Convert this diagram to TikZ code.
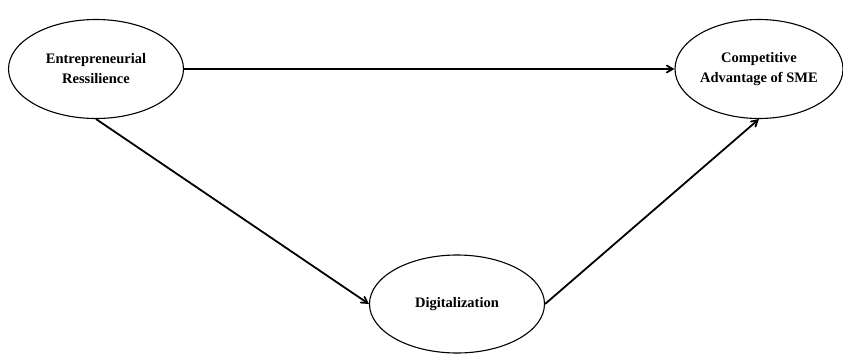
\documentclass[tikz,border=0pt]{standalone}
\usepackage{fontspec}
\setmainfont{Liberation Serif}
\usetikzlibrary{arrows}
\usetikzlibrary{shapes}

\begin{document}
\begin{tikzpicture}[x = 1pt, y = -1pt, font=\bfseries]
	\tikzstyle{VarStyle}=[shape = ellipse, draw, line width = 1.1pt, inner sep = 0pt, align = center, font = \fontsize{14.5}{20}\selectfont\bfseries]
	\tikzstyle{PathStyle}=[-angle 60, line width = 1.8pt]
	\useasboundingbox (0,0) rectangle (843,356);
	\node[VarStyle, minimum width = 175pt, minimum height = 99pt] (res) at (96,69) {Entrepreneurial\\Ressilience};
	\node[VarStyle, minimum width = 168pt, minimum height = 99pt] (cas) at (759,69) {Competitive\\Advantage of SME};
	\node[VarStyle, minimum width = 175pt, minimum height = 98pt] (dig) at (457,304) {Digitalization};
	\draw[PathStyle] (res) -- (cas);
	\draw[PathStyle] (res.south) -- (dig.west);
	\draw[PathStyle] (dig.east) -- (cas.south);
\end{tikzpicture}
\end{document}
